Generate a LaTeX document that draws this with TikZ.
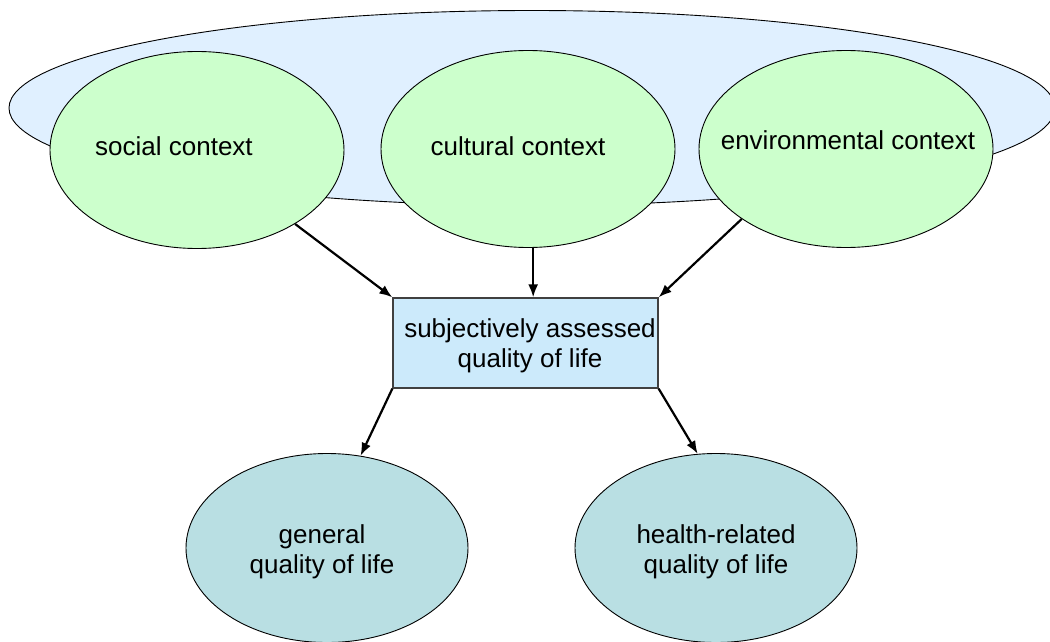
\documentclass[tikz,border=0pt]{standalone}
\usepackage{fontspec}
\setmainfont{Liberation Sans}
\usetikzlibrary{shapes.geometric,arrows.meta}
\definecolor{bigblue}{HTML}{E0F0FF}
\definecolor{ctxgreen}{HTML}{CCFFCC}
\definecolor{boxblue}{HTML}{CCEAFB}
\definecolor{qolteal}{HTML}{B9DFE3}
\definecolor{boxedge}{HTML}{404040}
\begin{document}
\begin{tikzpicture}[x=1pt,y=-1pt,
  every node/.style={font=\fontsize{26}{30}\selectfont},
  oval/.style={ellipse,draw=black,line width=0.9pt,inner sep=0pt},
  ctx/.style={oval,fill=ctxgreen,minimum width=294pt,minimum height=197pt},
  qol/.style={oval,fill=qolteal,minimum width=282pt,minimum height=189pt},
  lbl/.style={anchor=base,inner sep=0pt,align=center},
  arr/.style={-{Latex[length=13pt,width=10pt]},line width=2.2pt,black}]
\useasboundingbox (0,0) rectangle (1050,642);
\node[oval,fill=bigblue,minimum width=1046pt,minimum height=195pt] (big) at (532,108) {};
\node[ctx] (social) at (197,150) {};
\node[ctx] (cult) at (528,149) {};
\node[ctx] (env) at (846,149) {};
\node[draw=boxedge,line width=1.3pt,fill=boxblue,minimum width=265pt,minimum height=90pt,inner sep=0pt] (box) at (525.5,343) {};
\node[qol] (gen) at (327,548) {};
\node[qol] (hlth) at (716,548) {};
\node[lbl] (tsocial) at (174,155) {social context};
\node[lbl] (tcult) at (518,155) {cultural context};
\node[lbl] (tenv) at (848,149) {environmental context};
\node[lbl] (tbox) at (530,367) {subjectively assessed\\quality of life};
\node[lbl] (tgen) at (322,573) {general\\quality of life};
\node[lbl] (thlth) at (716,573) {health-related\\quality of life};
\draw[arr] (social) -- (box.north west);
\draw[arr] (cult.-87) -- (cult.-87 |- box.north);
\draw[arr] (env.south west) -- (box.north east);
\draw[arr] (box.south west) -- (gen.70);
\draw[arr] (box.south east) -- (hlth.101);
\end{tikzpicture}
\end{document}
